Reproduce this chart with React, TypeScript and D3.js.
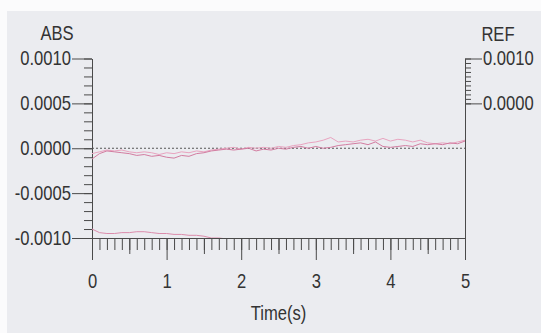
import React, { useRef, useEffect } from "react";
import * as d3 from "d3";

// time axis (s), sampled every 0.1 s
const timeSteps = d3.range(0, 51).map(i => i / 10);

// ABS traces
const absTraceA = [
  -0.00012, -0.00006, -0.00003, -0.00004, -0.00005, -0.00006, -0.00008, -0.00007, -0.00009, -0.00008,
  -0.00010, -0.00011, -0.00008, -0.00009, -0.00006, -0.00005, -0.00003, -0.00002, -0.00001, -0.00002,
  -0.00001, 0.00000, -0.00003, -0.00001, -0.00002, 0.00000, -0.00001, 0.00001, 0.00002, 0.00000,
  0.00002, 0.00000, 0.00001, 0.00003, 0.00004, 0.00005, 0.00006, 0.00004, 0.00007, 0.00002,
  0.00001, 0.00002, 0.00003, 0.00002, 0.00005, 0.00004, 0.00005, 0.00004, 0.00006, 0.00005, 0.00008,
];
const absTraceB = [
  -0.00006, -0.00004, -0.00002, -0.00003, -0.00002, -0.00004, -0.00005, -0.00004, -0.00005, -0.00007,
  -0.00005, -0.00006, -0.00004, -0.00005, -0.00003, -0.00004, -0.00002, -0.00001, 0.00000, 0.00001,
  -0.00001, 0.00001, 0.00000, 0.00001, 0.00000, 0.00002, 0.00001, 0.00003, 0.00004, 0.00006,
  0.00007, 0.00009, 0.00012, 0.00007, 0.00008, 0.00007, 0.00009, 0.00010, 0.00008, 0.00011,
  0.00008, 0.00010, 0.00009, 0.00007, 0.00009, 0.00006, 0.00005, 0.00006, 0.00005, 0.00007, 0.00009,
];
// lower trace, runs into the axis after ~1.6 s
const absTraceC = [
  -0.00090, -0.00094, -0.00095, -0.00095, -0.00094, -0.00094, -0.00093, -0.00093, -0.00094, -0.00095,
  -0.00095, -0.00096, -0.00096, -0.00097, -0.00097, -0.00098, -0.00100, -0.00100, -0.00101,
];

const absTicks = [-0.001, -0.0005, 0, 0.0005, 0.001];
const refTicks = [0, 0.001];
const timeTicks = [0, 1, 2, 3, 4, 5];

const FONT = "'Liberation Sans', Arial, sans-serif";

const App = () => {
  const svgRef = useRef<SVGSVGElement>(null);

  useEffect(() => {
    const width = 541, height = 333;
    const margin = { top: 58.5, right: 76, bottom: 95, left: 92 };
    const plotBottom = height - margin.bottom;

    const svg = d3.select(svgRef.current)
      .attr("width", width)
      .attr("height", height)
      .style("background", "#fbfbfc");

    svg.selectAll("*").remove();

    // scanned paper
    svg.append("rect")
      .attr("x", 7).attr("y", 11)
      .attr("width", width - 7).attr("height", height - 11)
      .attr("fill", "#ebecf0");

    const x = d3.scaleLinear().domain([0, 5]).range([margin.left, width - margin.right]);
    const y = d3.scaleLinear().domain([-0.001, 0.001]).range([plotBottom, margin.top]);
    const yRef = d3.scaleLinear().domain([-0.003, 0.001]).range([plotBottom, margin.top]);

    const ink = "#4a4a4a";
    const styleAxis = (g) => {
      g.selectAll("path, line").attr("stroke", ink).attr("stroke-width", 1);
      g.selectAll("text")
        .attr("fill", "#333")
        .style("font-family", FONT)
        .style("font-size", "20px");
    };

    // left ABS axis
    svg.append("g")
      .attr("transform", `translate(${margin.left},0)`)
      .call(d3.axisLeft(y).tickValues(d3.range(-10, 11).map(i => i / 10000)).tickSize(8).tickSizeOuter(0).tickFormat(() => ""))
      .call(styleAxis);
    svg.append("g")
      .attr("transform", `translate(${margin.left},0)`)
      .call(d3.axisLeft(y).tickValues(absTicks).tickSize(20).tickSizeOuter(0).tickPadding(1).tickFormat(d => (+d).toFixed(4)))
      .call(styleAxis);

    // right REF axis
    svg.append("g")
      .attr("transform", `translate(${width - margin.right},0)`)
      .call(d3.axisRight(yRef).tickValues(d3.range(0, 11).map(i => i / 10000)).tickSize(6).tickSizeOuter(0).tickFormat(() => ""))
      .call(styleAxis);
    svg.append("g")
      .attr("transform", `translate(${width - margin.right},0)`)
      .call(d3.axisRight(yRef).tickValues(refTicks).tickSize(17).tickSizeOuter(0).tickPadding(1).tickFormat(d => (+d).toFixed(4)))
      .call(styleAxis);

    // time axis
    svg.append("g")
      .attr("transform", `translate(0,${plotBottom})`)
      .call(d3.axisBottom(x).tickValues(d3.range(0, 51).map(i => i / 10)).tickSize(12).tickSizeOuter(0).tickFormat(() => ""))
      .call(styleAxis);
    svg.append("g")
      .attr("transform", `translate(0,${plotBottom})`)
      .call(d3.axisBottom(x).tickValues(d3.range(0, 5).map(i => i + 0.5)).tickSize(16).tickSizeOuter(0).tickFormat(() => ""))
      .call(styleAxis);
    svg.append("g")
      .attr("transform", `translate(0,${plotBottom})`)
      .call(d3.axisBottom(x).tickValues(timeTicks).tickSize(22).tickSizeOuter(0).tickPadding(14).tickFormat(d3.format("d")))
      .call(styleAxis);

    // zero reference line
    svg.append("line")
      .attr("x1", x(0)).attr("x2", x(5))
      .attr("y1", y(0)).attr("y2", y(0))
      .attr("stroke", "#555")
      .attr("stroke-width", 1)
      .attr("stroke-dasharray", "2,2");

    svg.append("clipPath").attr("id", "plot-clip")
      .append("rect")
      .attr("x", margin.left).attr("y", margin.top)
      .attr("width", x(5) - margin.left).attr("height", plotBottom - margin.top);

    const line = d3.line<number>()
      .x((_, i) => x(timeSteps[i]))
      .y(d => y(d));

    const traces = [
      { values: absTraceB, color: "#e8a3bf" },
      { values: absTraceA, color: "#d27ca0" },
      { values: absTraceC, color: "#db8cab" },
    ];

    svg.append("g")
      .attr("clip-path", "url(#plot-clip)")
      .selectAll("path")
      .data(traces)
      .enter()
      .append("path")
      .attr("d", t => line(t.values))
      .attr("fill", "none")
      .attr("stroke", t => t.color)
      .attr("stroke-width", 1);

    // axis titles
    const title = (tx, ty, label) =>
      svg.append("text")
        .attr("x", tx).attr("y", ty)
        .attr("text-anchor", "middle")
        .attr("fill", "#333")
        .style("font-family", FONT)
        .style("font-size", "20px")
        .text(label);

    title(57, 40, "ABS");
    title(498, 41, "REF");
    title((x(0) + x(5)) / 2, 320, "Time(s)");

    // the scan uses a narrow face: squeeze every label horizontally around its anchor
    svg.selectAll("text").each(function () {
      const el = this as SVGTextElement;
      const ax = +(el.getAttribute("x") || 0);
      d3.select(el).attr("transform", `translate(${ax},0) scale(0.83,1) translate(${-ax},0)`);
    });
  }, []);

  return (
    <div>
      <svg ref={svgRef} style={{ position: "absolute", left: 0, top: 0, display: "block" }}></svg>
    </div>
  );
};

export default App;
